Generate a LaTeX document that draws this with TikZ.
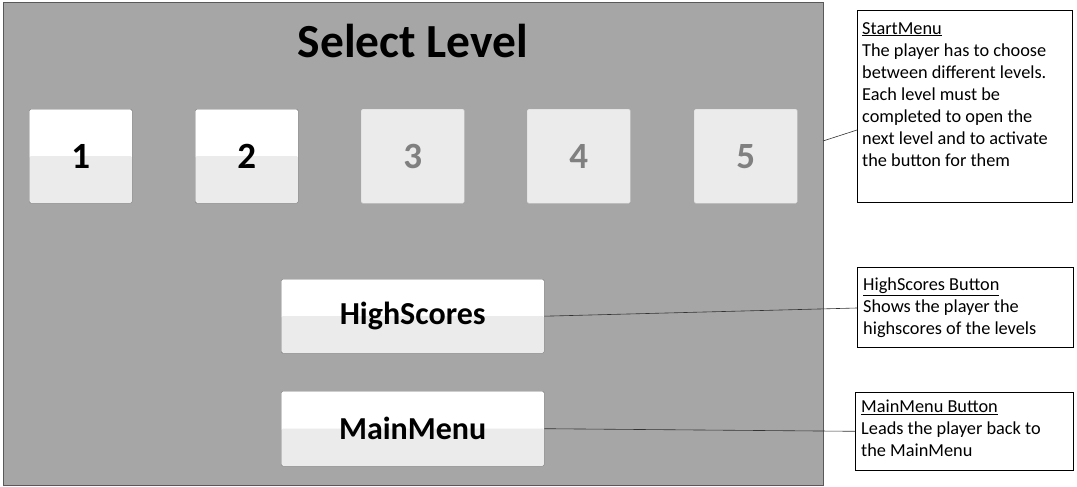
\documentclass[tikz,border=0pt]{standalone}
\usepackage{fontspec}
\setmainfont{Carlito}
\tikzset{
  panel/.style={draw=black!65, fill=black!35, line width=0.8pt, anchor=north west, inner sep=0pt},
  btnbase/.style={draw=black!55, fill=white, rounded corners=1.5pt, anchor=north west, inner sep=0pt,
    path picture={\fill[black!8] (path picture bounding box.west) rectangle (path picture bounding box.south east);}},
  levelbtn/.style={btnbase, minimum width=103pt, minimum height=94pt, font=\bfseries\fontsize{37}{37}\selectfont},
  lockedbtn/.style={draw=black!15, fill=black!8, rounded corners=1.5pt, anchor=north west, inner sep=0pt,
    minimum width=103pt, minimum height=94pt, text=black!50, font=\bfseries\fontsize{37}{37}\selectfont},
  menubtn/.style={btnbase, minimum width=263pt, minimum height=74pt, font=\bfseries\fontsize{32}{32}\selectfont},
  notebox/.style={draw=black, line width=0.6pt, anchor=north west, inner sep=0pt},
  notetext/.style={anchor=north west, inner sep=0pt, align=left, font=\fontsize{18.3}{22}\selectfont},
  pin/.style={draw=black!80, line width=0.6pt}
}
\begin{document}
\begin{tikzpicture}[x=1pt, y=-1pt]
  \useasboundingbox (0,0) rectangle (1077,487);
  % the level menu
  \node[panel, minimum width=820pt, minimum height=483pt] (panel) at (3,2) {};
  \node[anchor=base, font=\bfseries\fontsize{47.5}{47.5}\selectfont] (title) at (413,58) {Select Level};
  \node[levelbtn] (lvl1) at (29,109) {1};
  \node[levelbtn] (lvl2) at (195,109) {2};
  \node[lockedbtn] (lvl3) at (361,109) {3};
  \node[lockedbtn] (lvl4) at (527,109) {4};
  \node[lockedbtn] (lvl5) at (694,109) {5};
  \node[menubtn] (highscores) at (281,279) {HighScores};
  \node[menubtn, minimum height=75pt] (mainmenu) at (281,391) {MainMenu};
  % notes
  \node[notebox, minimum width=215pt, minimum height=192pt] (startnote) at (857,10) {};
  \node[notetext] (starttext) at (862,22) {\underline{StartMenu}\\The player has to choose\\between different levels.\\Each level must be\\completed to open the\\next level and to activate\\the button for them};
  \node[notebox, minimum width=216pt, minimum height=80pt] (hsnote) at (857,267) {};
  \node[notetext] (hstext) at (863,278) {\underline{HighScores Button}\\Shows the player the\\highscores of the levels};
  \node[notebox, minimum width=218pt, minimum height=78pt] (mmnote) at (855,392) {};
  \node[notetext] (mmtext) at (861,400) {\underline{MainMenu Button}\\Leads the player back to\\the MainMenu};
  \coordinate (panelpin) at (823,141);
  \begin{scope}[pin]
    \draw (panelpin) to (startnote.west |- 0,130);
    \draw (highscores.east) to (hsnote.west |- 0,308);
    \draw (mainmenu.east) to (mmnote.west);
  \end{scope}
\end{tikzpicture}
\end{document}
